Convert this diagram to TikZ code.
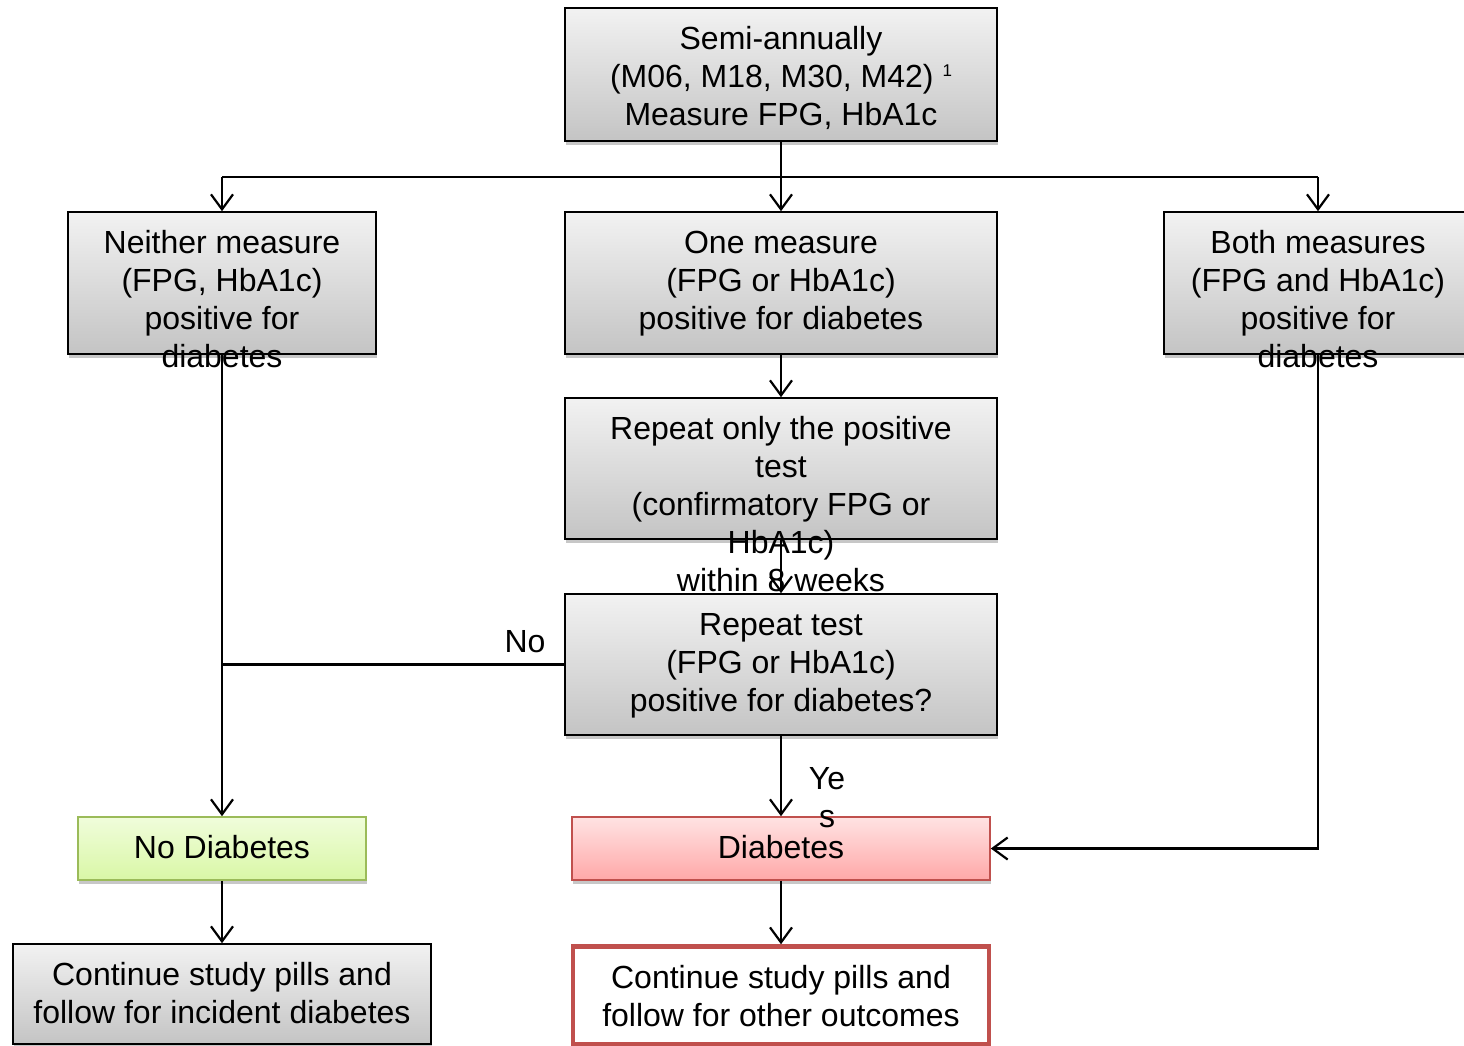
\documentclass[tikz,border=0pt]{standalone}
\usepackage{fontspec}
\setmainfont{Liberation Sans}
\usetikzlibrary{arrows.meta,shadows,calc}
\definecolor{grtop}{HTML}{F2F2F2}
\definecolor{grbot}{HTML}{C4C4C4}
\definecolor{gntop}{HTML}{F0FDDB}
\definecolor{gnbot}{HTML}{D9F7A6}
\definecolor{gnline}{HTML}{9BBB59}
\definecolor{rdtop}{HTML}{FFE3E3}
\definecolor{rdbot}{HTML}{FFA8A8}
\definecolor{rdline}{HTML}{C0504D}
\tikzset{
  shad/.style={drop shadow={shadow xshift=1pt,shadow yshift=-4pt,opacity=0.22,fill=black}},
  graybox/.style={rectangle,draw=black,line width=1.6pt,top color=grtop,bottom color=grbot,shad},
  greenbox/.style={rectangle,draw=gnline,line width=1.6pt,top color=gntop,bottom color=gnbot,shad},
  redbox/.style={rectangle,draw=rdline,line width=1.6pt,top color=rdtop,bottom color=rdbot,shad},
  outbox/.style={rectangle,draw=rdline,line width=4.5pt,fill=white},
  txt/.style={inner sep=0pt,align=center,font=\fontsize{32}{38}\selectfont,anchor=north},
  conn/.style={line width=2.4pt,draw=black},
  arr/.style={conn,-{Straight Barb[length=15pt,width=22pt,line width=2.2pt]}}
}
\begin{document}
\begin{tikzpicture}[x=1pt,y=-1pt]
\clip (0,0) rectangle (1464,1045);
\fill[white] (0,0) rectangle (1464,1045);
% boxes
\node[graybox,minimum width=432pt,minimum height=133pt] (top) at (781,74.5) {};
\node[graybox,minimum width=308pt,minimum height=142pt] (nei) at (222,283) {};
\node[graybox,minimum width=432pt,minimum height=142pt] (one) at (781,283) {};
\node[graybox,minimum width=308pt,minimum height=142pt] (both) at (1318,283) {};
\node[graybox,minimum width=432pt,minimum height=141pt] (rep) at (781,468.5) {};
\node[graybox,minimum width=432pt,minimum height=141pt] (rtest) at (781,664.5) {};
\node[greenbox,minimum width=288pt,minimum height=63pt] (nod) at (222,848.5) {};
\node[redbox,minimum width=418pt,minimum height=63pt] (dia) at (781,848.5) {};
\node[graybox,minimum width=418pt,minimum height=100pt] (cl) at (222,994) {};
\node[outbox,minimum width=416pt,minimum height=98pt] (cr) at (781,995.5) {};
% texts
\node[txt] (topT) at ($(top.north)+(0,15.5)$) {\strut Semi-annually\\(M06, M18, M30, M42) \raisebox{11pt}{\fontsize{17}{17}\selectfont 1}\\Measure FPG, HbA1c};
\node[txt] (neiT) at ($(nei.north)+(0,15.5)$) {\strut Neither measure\\(FPG, HbA1c)\\positive for\\diabetes};
\node[txt] (oneT) at ($(one.north)+(0,15.5)$) {\strut One measure\\(FPG or HbA1c)\\positive for diabetes};
\node[txt] (bothT) at ($(both.north)+(0,15.5)$) {\strut Both measures\\(FPG and HbA1c)\\positive for\\diabetes};
\node[txt] (repT) at ($(rep.north)+(0,15.5)$) {\strut Repeat only the positive\\test\\(confirmatory FPG or\\HbA1c)\\within 8 weeks};
\node[txt] (rtestT) at ($(rtest.north)+(0,15.5)$) {\strut Repeat test\\(FPG or HbA1c)\\positive for diabetes?};
\node[txt] (nodT) at ($(nod.north)+(0,15.5)$) {\strut No Diabetes};
\node[txt] (diaT) at ($(dia.north)+(0,15.5)$) {\strut Diabetes};
\node[txt] (clT) at ($(cl.north)+(0,15.5)$) {\strut Continue study pills and\\follow for incident diabetes};
\node[txt] (crT) at ($(cr.north)+(0,17.5)$) {\strut Continue study pills and\\follow for other outcomes};
\node[txt] (noL) at (525,625.5) {\strut No};
\node[txt] (yesL) at (827,762.5) {\strut Ye\\s};
% connectors
\coordinate (split) at (top.south |- 0,177);
\draw[arr] (top.south) -- (one.north);
\draw[conn] (split -| nei.north) -- (split -| both.north);
\draw[arr] (split -| nei.north) -- (nei.north);
\draw[arr] (split -| both.north) -- (both.north);
\draw[arr] (nei.south) -- (nod.north);
\draw[arr] (one.south) -- (rep.north);
\draw[arr] (rep.south) -- (rtest.north);
\draw[conn] (rtest.west) -- (rtest.west -| nei.south);
\draw[arr] (rtest.south) -- (dia.north);
\draw[arr] (both.south) |- (dia.east);
\draw[arr] (nod.south) -- (cl.north);
\draw[arr] (dia.south) -- (cr.north);
\end{tikzpicture}
\end{document}
